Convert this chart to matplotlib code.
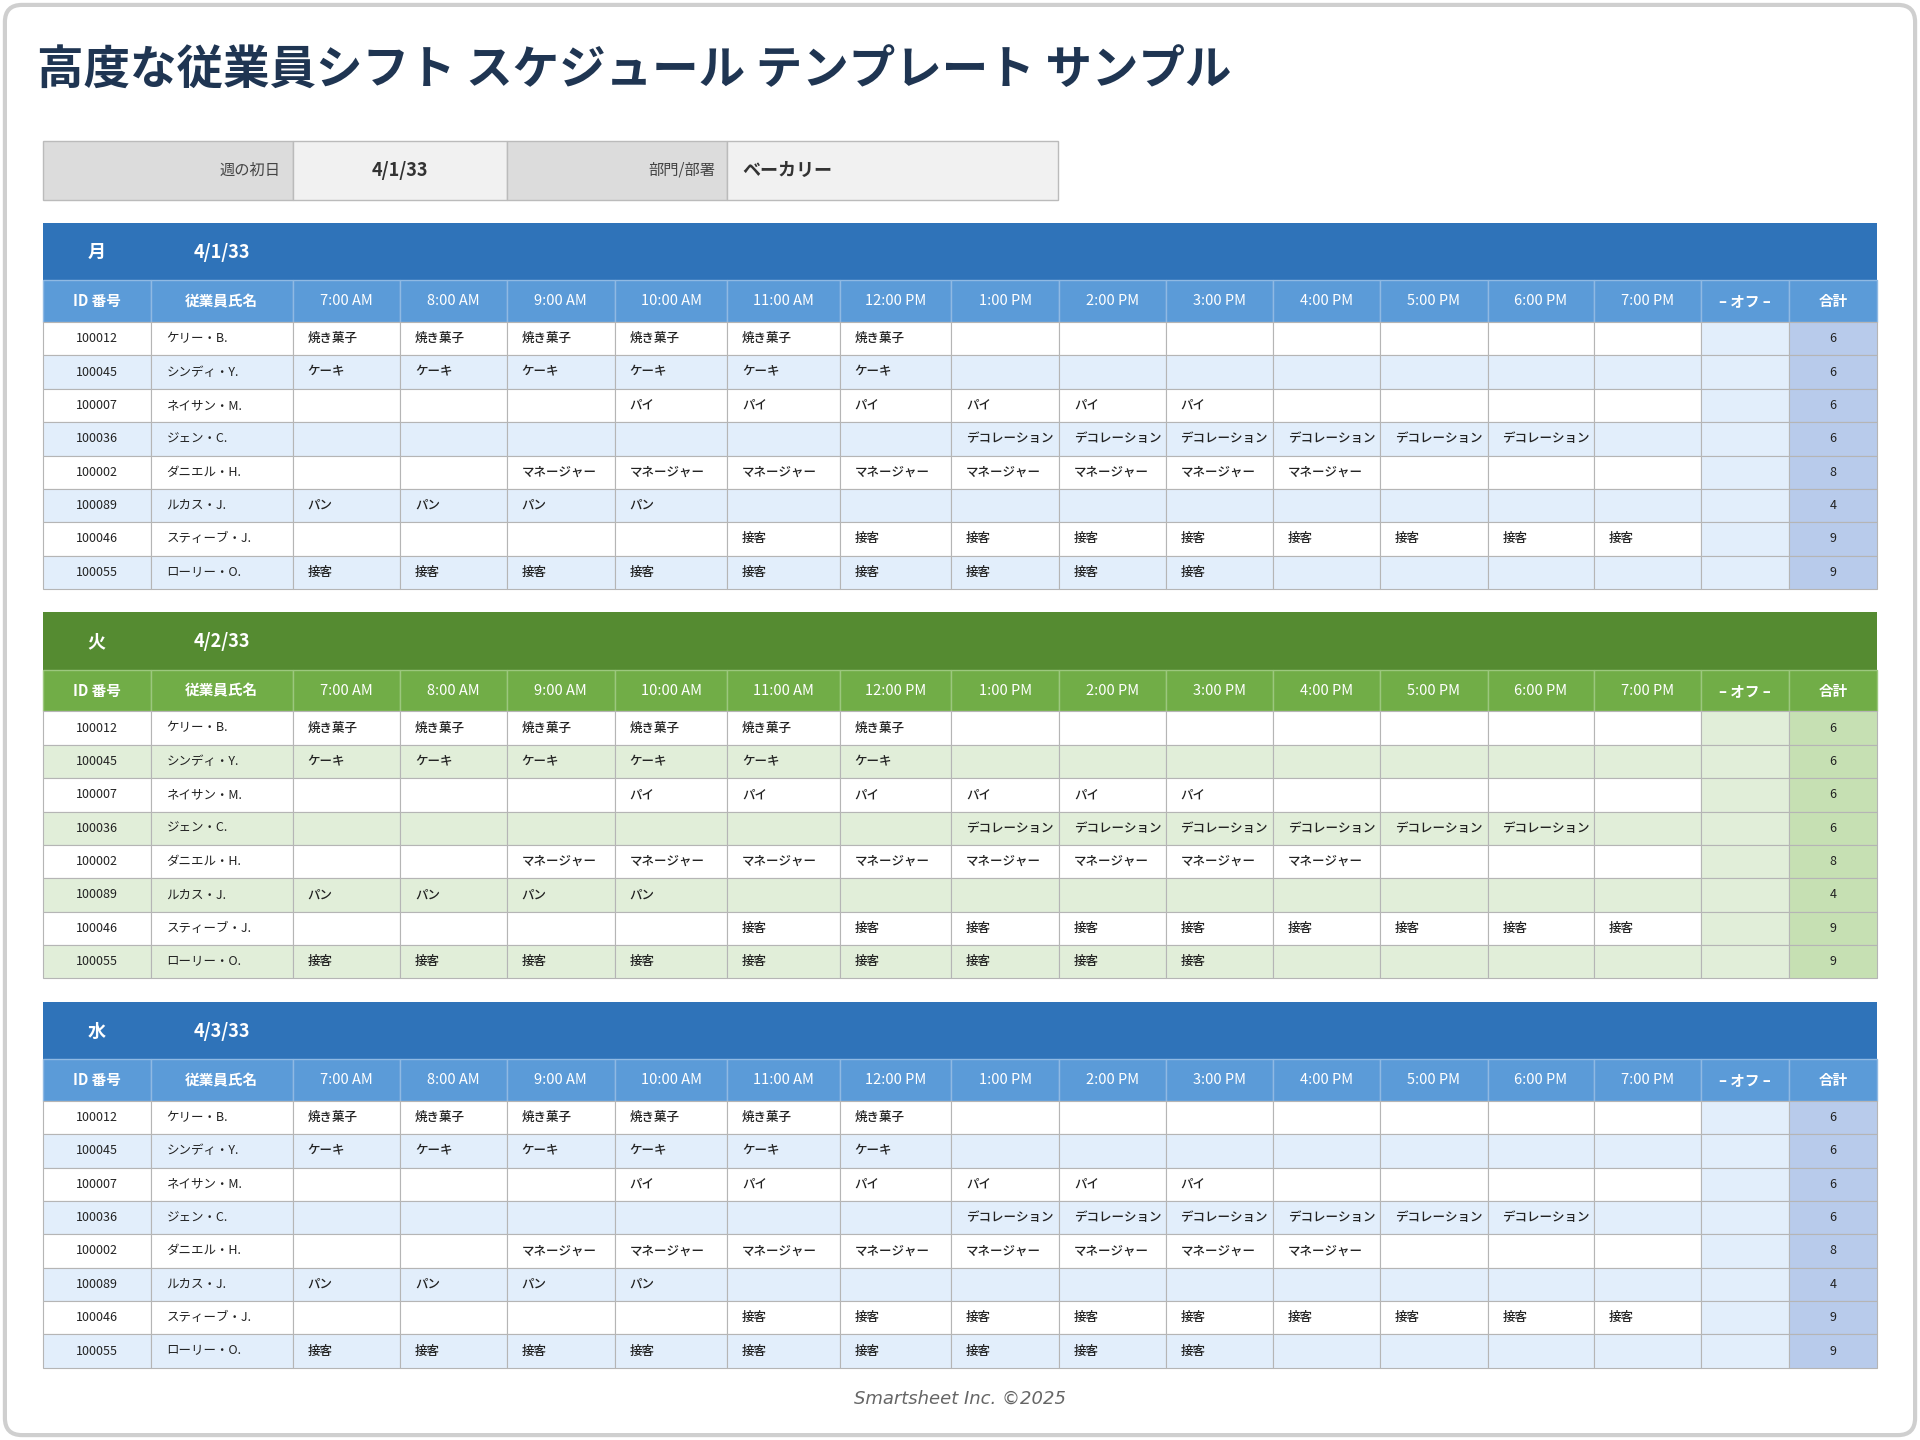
import matplotlib
matplotlib.use("Agg")
import matplotlib.pyplot as plt
from matplotlib.patches import Rectangle, FancyBboxPatch

plt.rcParams['font.family'] = ['Noto Sans CJK JP', 'DejaVu Sans']

# ---- data ----
title = "高度な従業員シフト スケジュール テンプレート サンプル"
week_start = "4/1/33"
department = "ベーカリー"
days = ["月", "火", "水"]
dates = ["4/1/33", "4/2/33", "4/3/33"]
times = ["7:00 AM", "8:00 AM", "9:00 AM", "10:00 AM", "11:00 AM", "12:00 PM",
         "1:00 PM", "2:00 PM", "3:00 PM", "4:00 PM", "5:00 PM", "6:00 PM", "7:00 PM"]
emp_ids = ["100012", "100045", "100007", "100036", "100002", "100089", "100046", "100055"]
emp_names = ["ケリー・B.", "シンディ・Y.", "ネイサン・M.", "ジェン・C.",
             "ダニエル・H.", "ルカス・J.", "スティーブ・J.", "ローリー・O."]
roles = ["焼き菓子", "ケーキ", "パイ", "デコレーション", "マネージャー", "パン", "接客", "接客"]
shift_start = [0, 0, 3, 6, 2, 0, 4, 0]   # index into times
shift_len = [6, 6, 6, 6, 8, 4, 9, 9]
totals = [6, 6, 6, 6, 8, 4, 9, 9]

# ---- layout (reference pixel coords) ----
W, H = 1568, 1176
col_x = [35, 123, 239, 327, 414, 502, 594, 686, 777, 865, 952, 1040,
         1127, 1215, 1302, 1389, 1461, 1533]
sec_top = [182, 500, 818]
row_h = 27.25

themes = [
    dict(day="#2f73b9", head="#5b9bd8", alt="#e2eefb", tot="#b8cbeb", off="#e2eefb"),
    dict(day="#558b31", head="#71ad47", alt="#e1eed9", tot="#c6e0b3", off="#e1eed9"),
    dict(day="#2f73b9", head="#5b9bd8", alt="#e2eefb", tot="#b8cbeb", off="#e2eefb"),
]
grid = "#b5b5b5"

fig = plt.figure(figsize=(19.2, 14.4), dpi=100)
ax = fig.add_axes([0, 0, 1, 1])
ax.set_xlim(0, W)
ax.set_ylim(H, 0)
ax.axis('off')

ax.add_patch(FancyBboxPatch((4, 4), W - 8, H - 8, boxstyle="round,pad=0,rounding_size=14",
                            fc="white", ec="#cfcfcf", lw=3))

ax.text(30, 58, title, fontsize=33.5, fontweight='bold', color="#1f3552", va='center')

# info bar
info = [(35, 239, "#dcdcdc", "週の初日", 'right', 'normal', 11, "#444444"),
        (239, 414, "#f1f1f1", week_start, 'center', 'bold', 13, "#333333"),
        (414, 594, "#dcdcdc", "部門/部署", 'right', 'normal', 11, "#444444"),
        (594, 864, "#f1f1f1", department, 'left', 'bold', 13, "#333333")]
for x0, x1, fc, txt, ha, fw, fs, c in info:
    ax.add_patch(Rectangle((x0, 115), x1 - x0, 48, fc=fc, ec="#bbbbbb", lw=1))
    tx = {'right': x1 - 10, 'center': (x0 + x1) / 2, 'left': x0 + 12}[ha]
    ax.text(tx, 139, txt, ha=ha, va='center', fontsize=fs, fontweight=fw, color=c)

headers = ["ID 番号", "従業員氏名"] + times + ["– オフ –", "合計"]
ncol = len(col_x) - 1

for s, top in enumerate(sec_top):
    th = themes[s]
    # day banner
    ax.add_patch(Rectangle((35, top), col_x[-1] - 35, 47, fc=th["day"], ec='none'))
    ax.text(79, top + 24, days[s], color='white', fontsize=13, fontweight='bold', va='center', ha='center')
    ax.text(158, top + 24, dates[s], color='white', fontsize=13, fontweight='bold', va='center')
    # column header
    hy = top + 47
    for c in range(ncol):
        ax.add_patch(Rectangle((col_x[c], hy), col_x[c + 1] - col_x[c], 34,
                               fc=th["head"], ec="#8fb9e3" if s != 1 else "#9cc77e", lw=1))
        ax.text((col_x[c] + col_x[c + 1]) / 2, hy + 17, headers[c], color='white',
                fontsize=10.5, ha='center', va='center',
                fontweight='bold' if c in (0, 1, ncol - 2, ncol - 1) else 'normal')
    # rows
    ry0 = hy + 34
    for r in range(len(emp_ids)):
        y = ry0 + r * row_h
        base = th["alt"] if r % 2 else "white"
        for c in range(ncol):
            fc = base
            if c == ncol - 2:
                fc = th["off"]
            elif c == ncol - 1:
                fc = th["tot"]
            ax.add_patch(Rectangle((col_x[c], y), col_x[c + 1] - col_x[c], row_h,
                                   fc=fc, ec=grid, lw=0.8))
        cy = y + row_h / 2
        ax.text(col_x[0] + 27, cy, emp_ids[r], fontsize=9, va='center', color="#222222")
        ax.text(col_x[1] + 13, cy, emp_names[r], fontsize=9, va='center', color="#222222")
        for k in range(shift_start[r], shift_start[r] + shift_len[r]):
            ax.text(col_x[2 + k] + 12, cy, roles[r], fontsize=9, va='center',
                    color="#222222", fontweight='medium')
        ax.text((col_x[-2] + col_x[-1]) / 2, cy, str(totals[r]), fontsize=9,
                ha='center', va='center', color="#222222")

ax.text(W / 2, 1142, "Smartsheet Inc. ©2025", fontsize=13, style='italic',
        color="#666666", ha='center', va='center', family='DejaVu Sans')

fig.savefig("out.png", dpi=100)
